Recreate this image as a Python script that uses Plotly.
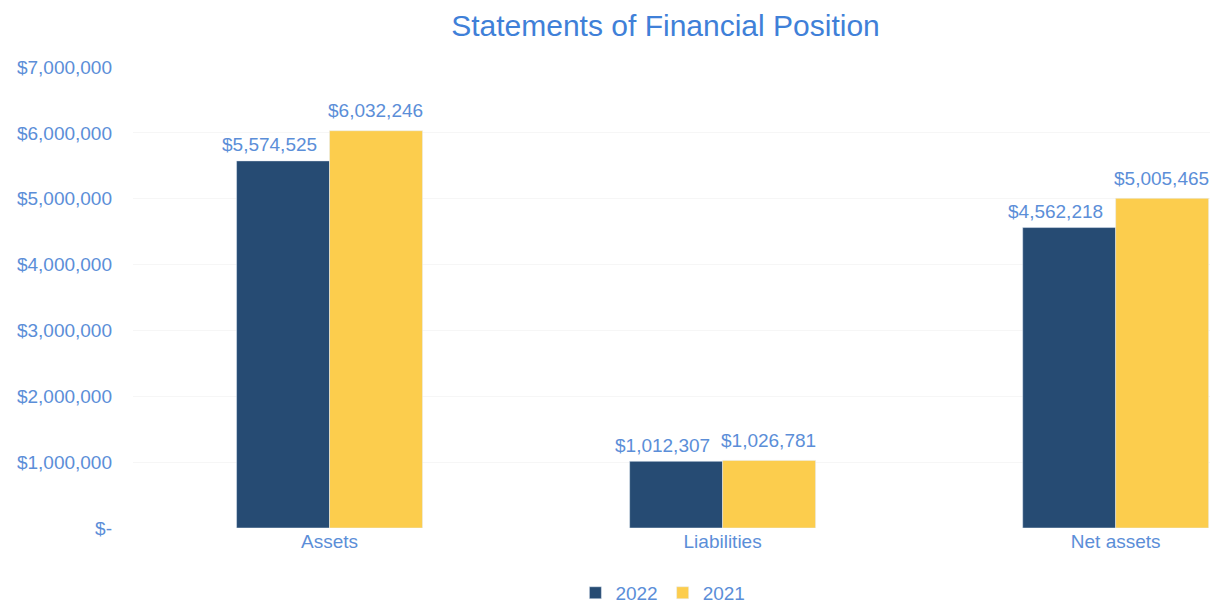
import plotly.graph_objects as go

categories = ["Assets", "Liabilities", "Net assets"]
values_2022 = [5574525, 1012307, 4562218]
values_2021 = [6032246, 1026781, 5005465]
tick_vals = [0, 1000000, 2000000, 3000000, 4000000, 5000000, 6000000, 7000000]
tick_text = ["$-", "$1,000,000", "$2,000,000", "$3,000,000", "$4,000,000",
             "$5,000,000", "$6,000,000", "$7,000,000"]

txt_color = "#5b8ed8"
font_fam = "Liberation Sans, Arial, sans-serif"

fig = go.Figure()
fig.add_trace(go.Bar(
    name="2022", x=categories, y=values_2022,
    marker=dict(color="#264b73"),
))
fig.add_trace(go.Bar(
    name="2021", x=categories, y=values_2021,
    marker=dict(color="#fccd4d"),
))

# value labels, anchored to the data through the axes
for cat, v in zip(categories, values_2022):
    fig.add_annotation(x=cat, y=v, xref="x", yref="y", text=f"${v:,}",
                       showarrow=False, xshift=-60, yshift=16, yanchor="middle",
                       font=dict(size=19, color=txt_color, family=font_fam))
for cat, v in zip(categories, values_2021):
    fig.add_annotation(x=cat, y=v, xref="x", yref="y", text=f"${v:,}",
                       showarrow=False, xshift=46, yshift=20, yanchor="middle",
                       font=dict(size=19, color=txt_color, family=font_fam))

fig.update_layout(
    width=1202, height=595,
    paper_bgcolor="white", plot_bgcolor="white",
    barmode="group", bargap=0.527, bargroupgap=0,
    margin=dict(l=125, r=0, t=59, b=75),
    title=dict(text="Statements of Financial Position", x=0.547, xanchor="center",
               y=0.9714, yanchor="middle",
               font=dict(size=30, color="#3f80d8", family=font_fam)),
    font=dict(family=font_fam, color=txt_color, size=19),
    xaxis=dict(range=[-0.5, 2.24], showgrid=False, showline=False, ticks="",
               tickfont=dict(size=19, color=txt_color)),
    yaxis=dict(range=[0, 7000000], tickvals=tick_vals, ticktext=tick_text,
               showgrid=True, gridcolor="#f6f6f6", zeroline=False,
               tickfont=dict(size=19, color=txt_color), ticklabelstandoff=20),
    legend=dict(orientation="h", xref="paper", x=0.492, xanchor="center",
                yref="container", y=0.017, yanchor="middle",
                font=dict(size=19, color=txt_color), itemwidth=30,
                traceorder="normal"),
    showlegend=True,
)

fig.write_html("out.html")
